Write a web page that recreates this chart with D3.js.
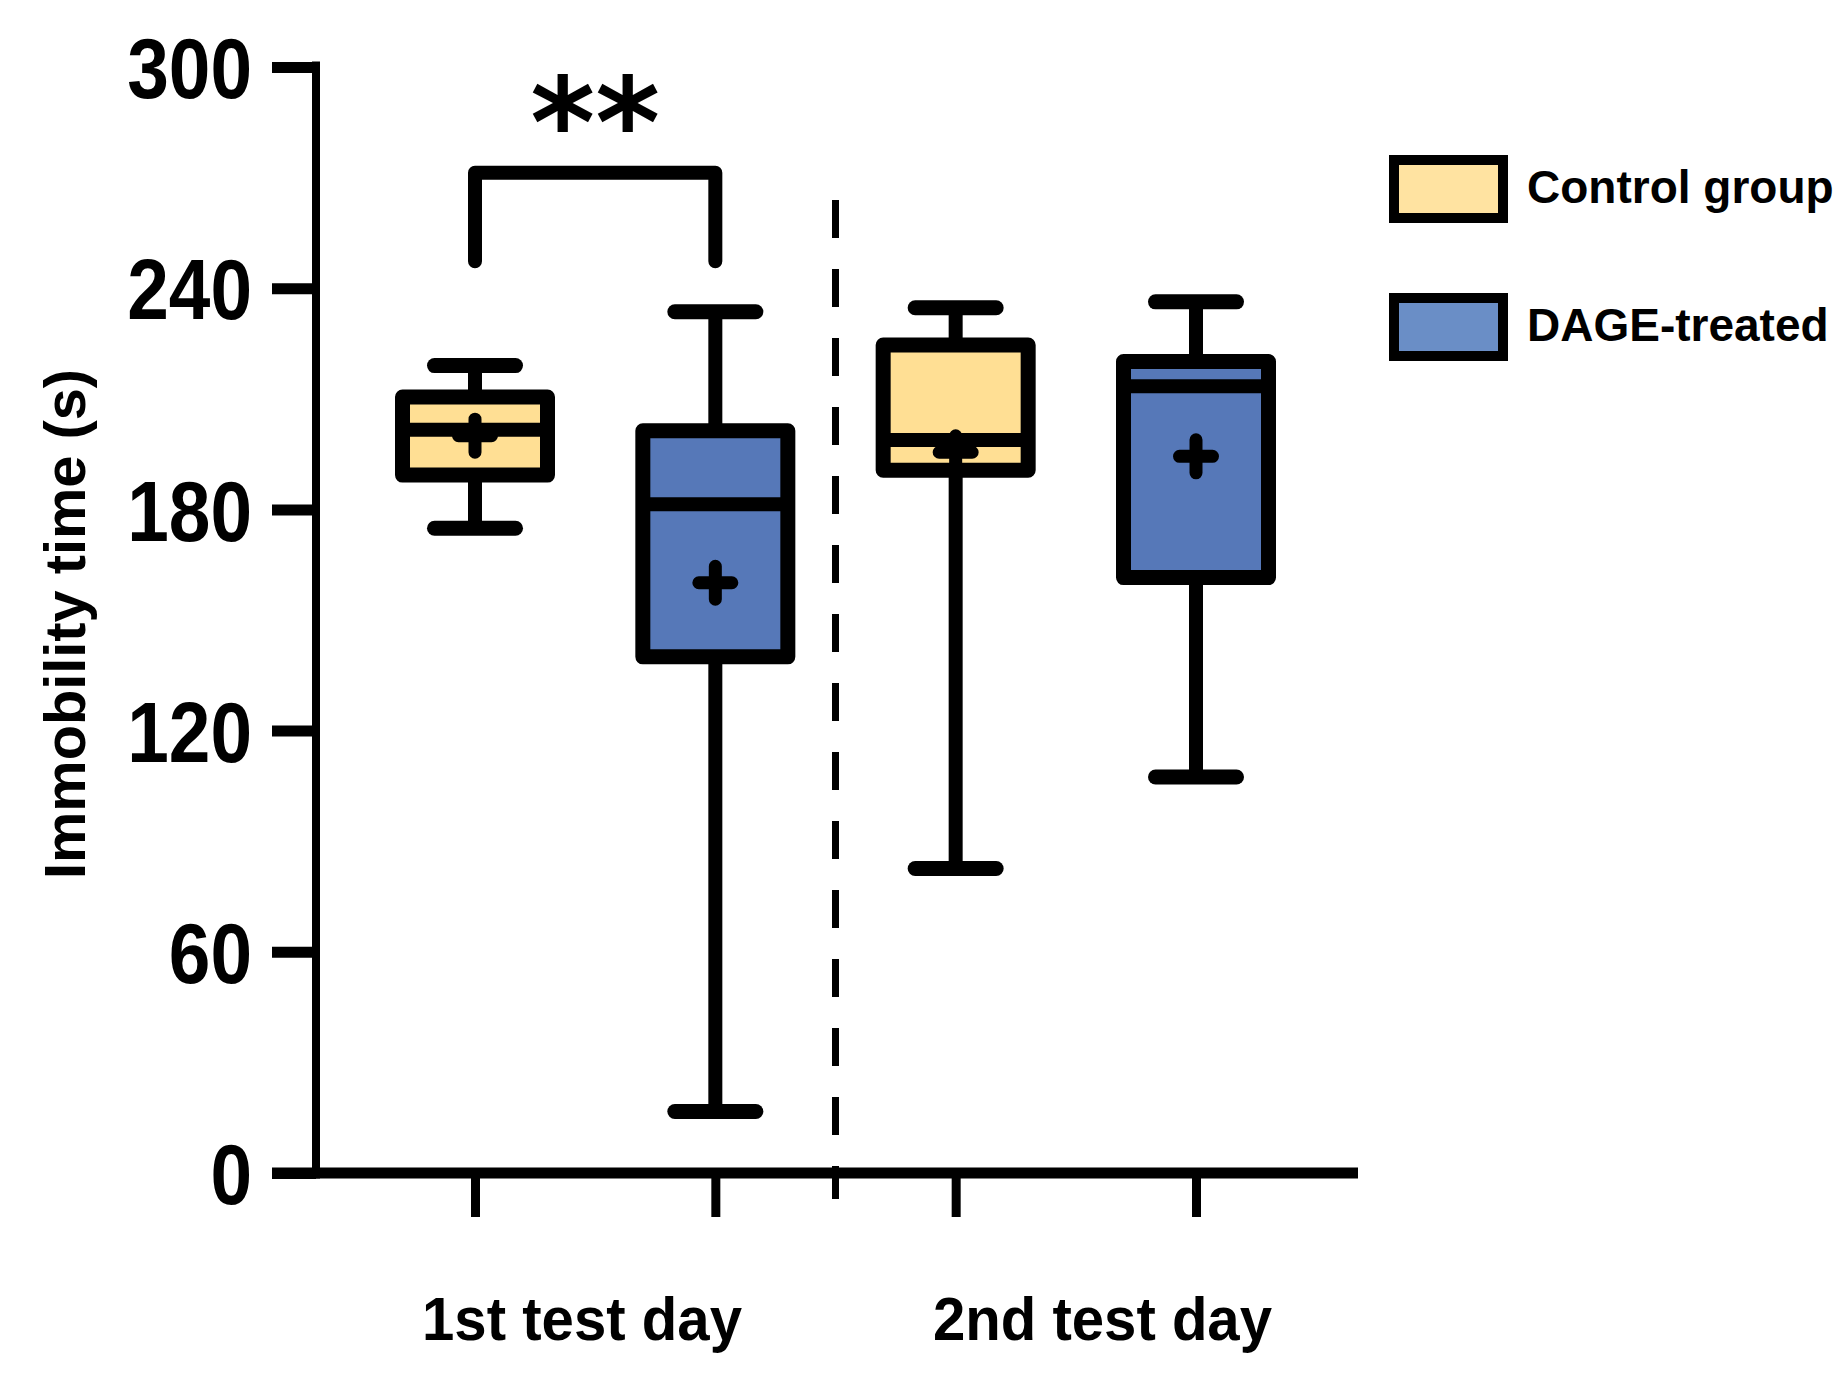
<!DOCTYPE html>
<html>
<head>
<meta charset="utf-8">
<script src="https://cdn.jsdelivr.net/npm/d3@7"></script>
<style>
  html, body { margin: 0; padding: 0; background: #fff; }
  svg { display: block; }
  text { font-family: "Liberation Sans", Arial, Helvetica, sans-serif; font-weight: bold; fill: #000; }
</style>
</head>
<body>
<div id="chart"></div>
<script>
// ---- data ----
const categories = ["1st test day", "2nd test day"];
const groups = ["Control group", "DAGE-treated"];
const boxKeys = ["day1-control", "day1-dage", "day2-control", "day2-dage"];
const boxGroup = [0, 1, 0, 1];
const whiskerHigh = [219.0, 233.6, 234.7, 236.3];
const q3Values     = [210.5, 201.3, 224.6, 220.1];
const medianValues = [201.6, 181.4, 198.8, 213.4];
const q1Values     = [189.3, 140.0, 190.6, 161.5];
const whiskerLow   = [174.9, 16.7, 82.6, 107.4];
const meanValues   = [200.0, 160.1, 195.5, 194.4];
const yTicks = [0, 60, 120, 180, 240, 300];
const yTitle = "Immobility time (s)";
const significance = { label: "**", from: 0, to: 1, top: 271.3, leg: 247.3 };

const boxFill = ["#FFDF94", "#5678B8"];
const legendFill = ["#FFE3A1", "#6A8EC6"];

// ---- layout ----
const W = 1847, H = 1382;
const svg = d3.select("#chart").append("svg").attr("width", W).attr("height", H);

const y = d3.scaleLinear().domain([0, 300]).range([1173, 67]);
const x = d3.scalePoint().domain(boxKeys).range([475, 1196]);
const axisX = 316;
const boxW = 145, capHalf = 40.5, sw = 15;

// y axis
const yAxis = d3.axisLeft(y).tickValues(yTicks).tickSize(44).tickPadding(20).tickFormat(d3.format("d"));
const gy = svg.append("g").attr("transform", `translate(${axisX},0)`).call(yAxis);
gy.select(".domain").remove();
gy.selectAll(".tick line").attr("stroke", "#000").attr("stroke-width", 11).attr("x1", 0).attr("x2", -44);
gy.selectAll(".tick text")
  .attr("font-size", 85).attr("dy", "0.36em")
  .attr("textLength", d => String(d).length * 41.6)
  .attr("lengthAdjust", "spacingAndGlyphs")
  .attr("fill", "#000");
svg.append("line").attr("x1", axisX).attr("x2", axisX)
  .attr("y1", y(300) - 5.5).attr("y2", y(0) + 5.5)
  .attr("stroke", "#000").attr("stroke-width", 8);

// x axis
svg.append("line").attr("x1", 272).attr("x2", 1358)
  .attr("y1", y(0)).attr("y2", y(0))
  .attr("stroke", "#000").attr("stroke-width", 11);
const xAxis = d3.axisBottom(x).tickSize(44).tickFormat("");
const gx = svg.append("g").attr("transform", `translate(0,${y(0)})`).call(xAxis);
gx.select(".domain").remove();
gx.selectAll(".tick line").attr("stroke", "#000").attr("stroke-width", 9);

// dashed separator between days
const sepX = (x(boxKeys[1]) + x(boxKeys[2])) / 2;
svg.append("line").attr("x1", sepX).attr("x2", sepX)
  .attr("y1", 200).attr("y2", 1199)
  .attr("stroke", "#000").attr("stroke-width", 7).attr("stroke-dasharray", "38 31");

// category labels
const catCenters = [582, 1102.5];
const catWidths = [320, 339];
svg.selectAll(".cat").data(categories).enter().append("text")
  .attr("class", "cat")
  .attr("x", (d, i) => catCenters[i]).attr("y", 1340)
  .attr("text-anchor", "middle").attr("font-size", 62)
  .attr("textLength", (d, i) => catWidths[i]).attr("lengthAdjust", "spacingAndGlyphs")
  .text(d => d);

// y title
svg.append("text")
  .attr("transform", `translate(85,624) rotate(-90)`)
  .attr("text-anchor", "middle").attr("font-size", 58)
  .attr("textLength", 510).attr("lengthAdjust", "spacingAndGlyphs")
  .text(yTitle);

// boxes
const boxes = svg.selectAll(".box").data(boxKeys).enter().append("g").attr("class", "box");
boxes.append("line")
  .attr("x1", d => x(d)).attr("x2", d => x(d))
  .attr("y1", (d, i) => y(whiskerHigh[i])).attr("y2", (d, i) => y(whiskerLow[i]))
  .attr("stroke", "#000").attr("stroke-width", 14);
boxes.append("line")
  .attr("x1", d => x(d) - capHalf).attr("x2", d => x(d) + capHalf)
  .attr("y1", (d, i) => y(whiskerHigh[i])).attr("y2", (d, i) => y(whiskerHigh[i]))
  .attr("stroke", "#000").attr("stroke-width", sw).attr("stroke-linecap", "round");
boxes.append("line")
  .attr("x1", d => x(d) - capHalf).attr("x2", d => x(d) + capHalf)
  .attr("y1", (d, i) => y(whiskerLow[i])).attr("y2", (d, i) => y(whiskerLow[i]))
  .attr("stroke", "#000").attr("stroke-width", sw).attr("stroke-linecap", "round");
boxes.append("rect")
  .attr("x", d => x(d) - boxW / 2).attr("width", boxW)
  .attr("y", (d, i) => y(q3Values[i])).attr("height", (d, i) => y(q1Values[i]) - y(q3Values[i]))
  .attr("fill", (d, i) => boxFill[boxGroup[i]])
  .attr("stroke", "#000").attr("stroke-width", sw).attr("stroke-linejoin", "round");
boxes.append("line")
  .attr("x1", d => x(d) - boxW / 2).attr("x2", d => x(d) + boxW / 2)
  .attr("y1", (d, i) => y(medianValues[i])).attr("y2", (d, i) => y(medianValues[i]))
  .attr("stroke", "#000").attr("stroke-width", 14);
// mean "+"
const plusHalf = 16.5;
boxes.append("path")
  .attr("d", (d, i) => {
    const cx = x(d), cy = y(meanValues[i]);
    return `M${cx - plusHalf},${cy}H${cx + plusHalf}M${cx},${cy - plusHalf}V${cy + plusHalf}`;
  })
  .attr("fill", "none").attr("stroke", "#000").attr("stroke-width", 13).attr("stroke-linecap", "round");

// significance bracket
const bx1 = x(boxKeys[significance.from]), bx2 = x(boxKeys[significance.to]);
svg.append("path")
  .attr("d", `M${bx1},${y(significance.leg)}V${y(significance.top)}H${bx2}V${y(significance.leg)}`)
  .attr("fill", "none").attr("stroke", "#000").attr("stroke-width", 14)
  .attr("stroke-linecap", "round").attr("stroke-linejoin", "round");
svg.append("text")
  .attr("x", (bx1 + bx2) / 2).attr("y", 167)
  .attr("text-anchor", "middle").attr("font-size", 124)
  .style("font-family", "'DejaVu Sans', sans-serif")
  .text(significance.label);

// legend
const legend = svg.selectAll(".leg").data(groups).enter().append("g").attr("class", "leg")
  .attr("transform", (d, i) => `translate(1394,${160 + i * 138})`);
legend.append("rect").attr("width", 109).attr("height", 58)
  .attr("fill", (d, i) => legendFill[i]).attr("stroke", "#000").attr("stroke-width", 10);
legend.append("text").attr("x", 133).attr("y", 43).attr("font-size", 46).text(d => d);
</script>
</body>
</html>
